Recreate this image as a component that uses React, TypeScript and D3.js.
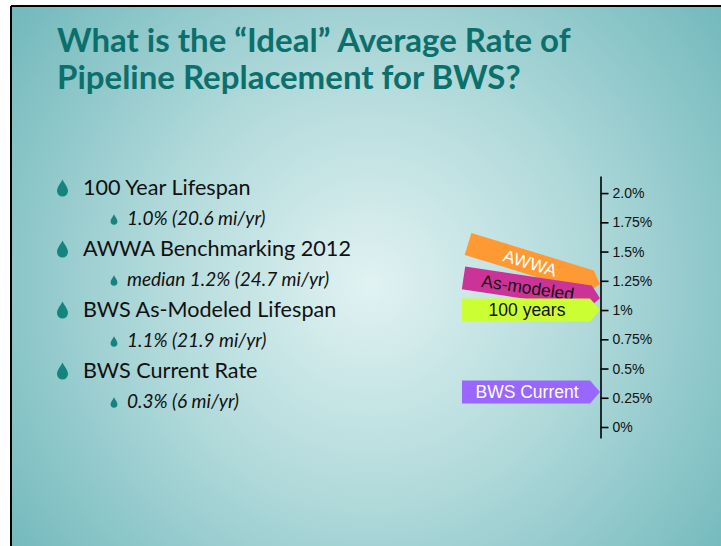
import React, { useEffect, useRef } from 'react'
import * as d3 from 'd3'

// rate scale (percent per year)
const tickValues = [0, 0.25, 0.5, 0.75, 1, 1.25, 1.5, 1.75, 2]
const tickLabels = ['0%', '0.25%', '0.5%', '0.75%', '1%', '1.25%', '1.5%', '1.75%', '2.0%']

// arrows pointing at the axis
const arrowNames = ['AWWA', 'As-modeled', '100 years', 'BWS Current']
const arrowValues = [1.22, 1.1, 1.0, 0.3]

// bullet list
const bulletHeads = ['100 Year Lifespan', 'AWWA Benchmarking 2012', 'BWS As-Modeled Lifespan', 'BWS Current Rate']
const bulletDetails = ['1.0% (20.6 mi/yr)', 'median 1.2% (24.7 mi/yr)', '1.1% (21.9 mi/yr)', '0.3% (6 mi/yr)']

const titleLines = ['What is the \u201CIdeal\u201D Average Rate of', 'Pipeline Replacement for BWS?']

const W = 721
const H = 546

// drawing styles for the arrows
const arrowFill = ['#FF9933', '#CC3399', '#CCFF33', '#9966FF']
const arrowText = ['#ffffff', '#111111', '#111111', '#ffffff']
const arrowTilt = [17, 8.5, 0, 0]

const drop = 'M0,-8.5 C1.5,-5 5.5,-1 5.5,3 A5.5,5.5 0 0 1 -5.5,3 C-5.5,-1 -1.5,-5 0,-8.5 Z'

export default function App() {
  const axisRef = useRef<SVGGElement>(null)

  const axisX = 600.5
  const y = d3.scaleLinear().domain([-0.094, 2.146]).range([438, 176])

  useEffect(() => {
    const g = d3.select(axisRef.current)
    g.selectAll('*').remove()
    g.call(
      d3.axisRight(y)
        .tickValues(tickValues)
        .tickFormat((d, i) => tickLabels[i])
        .tickSize(8)
        .tickSizeOuter(0)
        .tickPadding(4)
    )
    g.selectAll('path, line').attr('stroke', '#000').attr('stroke-width', 1.6)
    g.selectAll('text')
      .attr('fill', '#111')
      .style('font-family', 'Arial, "Liberation Sans", sans-serif')
      .style('font-size', '14px')
  }, [])

  const L = 138
  const P = 10
  const h = 11.5
  const arrowPath = `M${-L},${-h} L${-P},${-h} L0,0 L${-P},${h} L${-L},${h} Z`

  return (
    <svg width={W} height={H} style={{ position: 'absolute', left: 0, top: 0, background: '#fff' }}>
      <defs>
        <radialGradient id="bg" gradientUnits="userSpaceOnUse" cx={370} cy={285} r={470}>
          <stop offset="0" stopColor="#e1f2f2" />
          <stop offset="0.45" stopColor="#b2dadb" />
          <stop offset="1" stopColor="#6db6ba" />
        </radialGradient>
      </defs>
      <rect x={11} y={6} width={W} height={H} fill="url(#bg)" />
      <line x1={11} y1={6} x2={W} y2={6} stroke="#000" strokeWidth={2} />
      <line x1={11} y1={6} x2={11} y2={H} stroke="#000" strokeWidth={2} />

      <g fill="#0b6f6b" fontFamily="Lato, 'Open Sans', sans-serif" fontWeight={700} fontSize={33}>
        {titleLines.map((t, i) => (
          <text key={i} x={57} y={51.5 + i * 37}>{t}</text>
        ))}
      </g>

      <g fontFamily="Lato, 'Open Sans', sans-serif" fill="#111">
        {bulletHeads.map((t, i) => {
          const by = 195 + i * 61
          const sy = by + 29.5
          return (
            <g key={i}>
              <path d={drop} transform={`translate(62.5,${by - 7})`} fill="#15847f" />
              <text x={83} y={by} fontSize={21.6}>{t}</text>
              <path d={drop} transform={`translate(114,${sy - 5}) scale(0.62)`} fill="#15847f" />
              <text x={127} y={sy} fontSize={19} fontStyle="italic">{bulletDetails[i]}</text>
            </g>
          )
        })}
      </g>

      {arrowNames.map((name, i) => (
        <g key={name} transform={`translate(${axisX - 0.5},${y(arrowValues[i])}) rotate(${arrowTilt[i]})`}>
          <path d={arrowPath} fill={arrowFill[i]} />
          <text
            x={-(L + P) / 2 + 1}
            y={0}
            dy="0.35em"
            textAnchor="middle"
            fill={arrowText[i]}
            fontFamily="Arial, 'Liberation Sans', sans-serif"
            fontSize={17.5}
          >
            {name}
          </text>
        </g>
      ))}

      <g ref={axisRef} transform={`translate(${axisX},0)`} />
    </svg>
  )
}
